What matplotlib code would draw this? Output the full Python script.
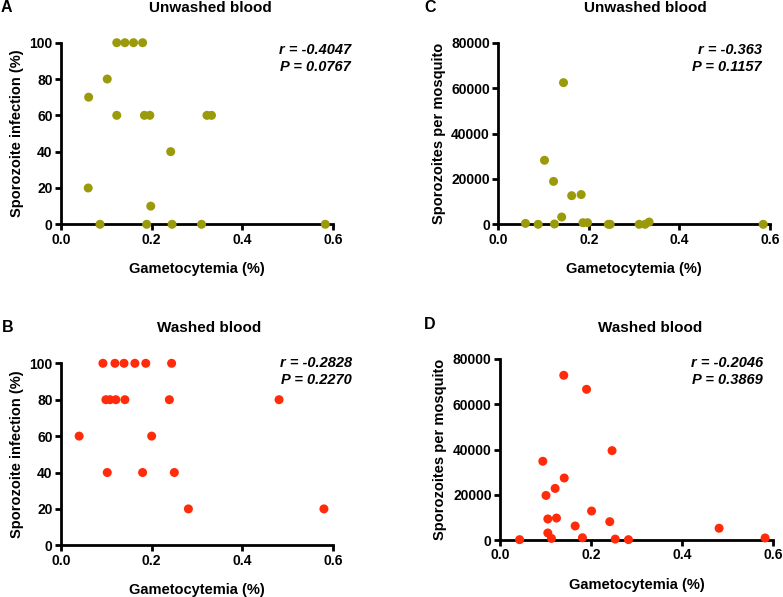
import numpy as np
import matplotlib.pyplot as plt

plt.rcParams['font.family'] = ['Liberation Sans', 'DejaVu Sans']
plt.rcParams['font.weight'] = 'bold'

# Panel A: unwashed blood, sporozoite infection (%)
a_x = [0.123, 0.141, 0.160, 0.180, 0.102, 0.061, 0.123, 0.184, 0.196, 0.322,
       0.332, 0.242, 0.060, 0.198, 0.086, 0.189, 0.245, 0.310, 0.583]
a_y = [100, 100, 100, 100, 80, 70, 60, 60, 60, 60,
       60, 40, 20, 10, 0, 0, 0, 0, 0]

# Panel C: unwashed blood, sporozoites per mosquito
c_x = [0.144, 0.102, 0.122, 0.162, 0.183, 0.140, 0.060, 0.088, 0.124, 0.187,
       0.197, 0.243, 0.247, 0.311, 0.324, 0.333, 0.585]
c_y = [62400, 28200, 18900, 12600, 13100, 3200, 400, 0, 150, 700,
       700, 0, 0, 0, 0, 1000, 0]

# Panel B: washed blood, sporozoite infection (%)
b_x = [0.0925, 0.119, 0.139, 0.163, 0.187, 0.244,
       0.099, 0.108, 0.121, 0.141, 0.239, 0.481,
       0.040, 0.200, 0.102, 0.180, 0.250, 0.281, 0.580]
b_y = [100, 100, 100, 100, 100, 100,
       80, 80, 80, 80, 80, 80,
       60, 60, 40, 40, 40, 20, 20]

# Panel D: washed blood, sporozoites per mosquito
d_x = [0.140, 0.190, 0.246, 0.094, 0.141, 0.121, 0.101, 0.201, 0.105, 0.124,
       0.241, 0.165, 0.481, 0.105, 0.113, 0.181, 0.253, 0.282, 0.043, 0.582]
d_y = [72800, 66600, 39500, 34800, 27400, 22800, 19700, 12800, 9300, 9700,
       8100, 6200, 5200, 3100, 700, 1000, 400, 150, 150, 900]

olive = '#9b9a0b'
red = '#ff2b0a'

W, H = 783, 597
fig = plt.figure(figsize=(W / 100, H / 100), dpi=100)


def make_axes(x0, x1, ytop, ybot):
    return fig.add_axes([x0 / W, 1 - ybot / H, (x1 - x0) / W, (ybot - ytop) / H])


def style(ax, ymax, yticks, ylabel):
    ax.set_xlim(0, 0.6)
    ax.set_ylim(0, ymax)
    ax.set_xticks([0.0, 0.2, 0.4, 0.6])
    ax.set_xticklabels(['0.0', '0.2', '0.4', '0.6'])
    ax.set_yticks(yticks)
    for s in ['top', 'right']:
        ax.spines[s].set_visible(False)
    for s in ['left', 'bottom']:
        ax.spines[s].set_linewidth(2)
    ax.tick_params(direction='out', length=4, width=2, labelsize=10, pad=2)
    for lab in ax.get_xticklabels() + ax.get_yticklabels():
        lab.set_fontweight('bold')
    ax.set_xlabel('Gametocytemia (%)', fontsize=10.5, fontweight='bold', labelpad=11)
    ax.set_ylabel(ylabel, fontsize=10.5, fontweight='bold', labelpad=4)


panels = [
    (a_x, a_y, olive, (61, 333, 42.7, 224.3), 100, [0, 20, 40, 60, 80, 100],
     'Sporozoite infection (%)', 'r = -0.4047', 'P = 0.0767', (351, 50)),
    (c_x, c_y, olive, (498.3, 770, 42.7, 224.3), 80000, [0, 20000, 40000, 60000, 80000],
     'Sporozoites per mosquito', 'r = -0.363', 'P = 0.1157', (762, 50)),
    (b_x, b_y, red, (61, 333, 363.3, 545.3), 100, [0, 20, 40, 60, 80, 100],
     'Sporozoite infection (%)', 'r = -0.2828', 'P = 0.2270', (352, 363)),
    (d_x, d_y, red, (500, 773.3, 359, 540), 80000, [0, 20000, 40000, 60000, 80000],
     'Sporozoites per mosquito', 'r = -0.2046', 'P = 0.3869', (763, 363)),
]

for xs, ys, col, box, ymax, yt, ylab, rtxt, ptxt, (tx, ty) in panels:
    ax = make_axes(*box)
    ax.scatter(xs, ys, s=42, color=col, edgecolors='none', clip_on=False, zorder=3)
    style(ax, ymax, yt, ylab)
    fig.text(tx / W, 1 - ty / H, rtxt, ha='right', va='center',
             fontsize=10.5, fontweight='bold', fontstyle='italic')
    fig.text(tx / W, 1 - (ty + 17) / H, ptxt, ha='right', va='center',
             fontsize=10.5, fontweight='bold', fontstyle='italic')

# titles and panel letters
fig.text(210 / W, 1 - 8 / H, 'Unwashed blood', ha='center', va='center', fontsize=11, fontweight='bold')
fig.text(645 / W, 1 - 8 / H, 'Unwashed blood', ha='center', va='center', fontsize=11, fontweight='bold')
fig.text(209 / W, 1 - 328 / H, 'Washed blood', ha='center', va='center', fontsize=11, fontweight='bold')
fig.text(650 / W, 1 - 328 / H, 'Washed blood', ha='center', va='center', fontsize=11, fontweight='bold')
fig.text(1 / W, 1 - 8 / H, 'A', ha='left', va='center', fontsize=11.5, fontweight='bold')
fig.text(424 / W, 1 - 8 / H, 'C', ha='left', va='center', fontsize=11.5, fontweight='bold')
fig.text(2 / W, 1 - 327 / H, 'B', ha='left', va='center', fontsize=11.5, fontweight='bold')
fig.text(424 / W, 1 - 325 / H, 'D', ha='left', va='center', fontsize=11.5, fontweight='bold')

fig.savefig('out.png', dpi=100)
